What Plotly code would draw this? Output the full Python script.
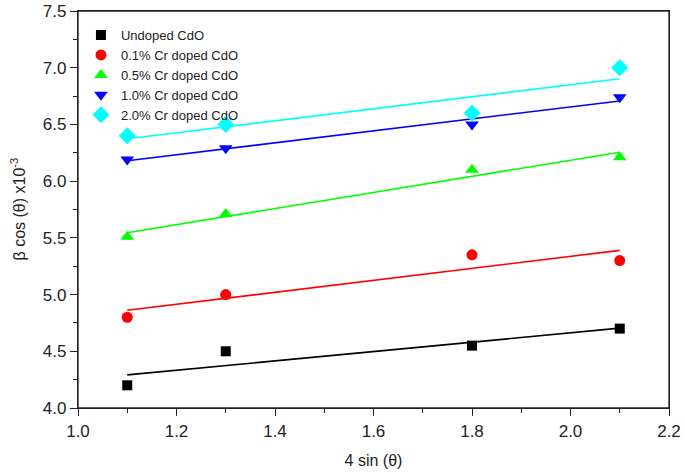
import numpy as np
import plotly.graph_objects as go

x_vals = [1.1, 1.3, 1.8, 2.1]
series_names = ["Undoped CdO", "0.1% Cr doped CdO", "0.5% Cr doped CdO",
                "1.0% Cr doped CdO", "2.0% Cr doped CdO"]
undoped = [4.20, 4.50, 4.55, 4.70]
cr_01 = [4.80, 5.00, 5.35, 5.30]
cr_05 = [5.51, 5.71, 6.10, 6.21]
cr_10 = [6.19, 6.29, 6.50, 6.74]
cr_20 = [6.40, 6.50, 6.60, 7.00]

series_values = [undoped, cr_01, cr_05, cr_10, cr_20]
colors = ["#000000", "#ff0000", "#00ff00", "#0000ff", "#00ffff"]
symbols = ["square", "circle", "triangle-up", "triangle-down", "diamond"]
sizes = [10, 11, 12, 12, 13]

FONT = "Arial, Liberation Sans, sans-serif"

fig = go.Figure()
xa = np.array(x_vals)
for name, vals, c, s, sz in zip(series_names, series_values, colors, symbols, sizes):
    slope, icpt = np.polyfit(xa, np.array(vals), 1)
    xf = np.array([xa.min(), xa.max()])
    fig.add_trace(go.Scatter(x=xf, y=slope * xf + icpt, mode="lines",
                             line=dict(color=c, width=1.6),
                             showlegend=False, hoverinfo="skip"))
    fig.add_trace(go.Scatter(x=x_vals, y=vals, mode="markers", name=name,
                             marker=dict(symbol=s, size=sz, color=c,
                                         line=dict(width=0))))

axis_common = dict(
    showgrid=False, zeroline=False, showline=True, linecolor="#222",
    linewidth=1.3, mirror=True, ticks="outside", ticklen=7, tickwidth=1.2,
    tickcolor="#222", tickfont=dict(family=FONT, size=17, color="#222"),
    automargin=False,
)
fig.update_xaxes(range=[1.0, 2.2], dtick=0.2, tick0=1.0, tickformat=".1f",
                 minor=dict(ticks="outside", ticklen=4, dtick=0.1,
                            tickcolor="#222", tickwidth=1.2),
                 title=dict(text="4 sin (θ)", font=dict(family=FONT, size=16, color="#222")),
                 **axis_common)
fig.update_yaxes(range=[4.0, 7.5], dtick=0.5, tick0=4.0, tickformat=".1f",
                 minor=dict(ticks="outside", ticklen=4, dtick=0.25,
                            tickcolor="#222", tickwidth=1.2),
                 **axis_common)

# plot frame (ensures the top edge is drawn)
fig.add_shape(type="rect", xref="paper", yref="paper", x0=0, y0=0, x1=1, y1=1,
              line=dict(color="#222", width=1.3), fillcolor="rgba(0,0,0,0)",
              layer="above")

fig.add_annotation(text="β cos (θ) x10<sup>-3</sup>", xref="paper", yref="paper",
                   x=0, y=0.5, xanchor="center", yanchor="middle", xshift=-60,
                   textangle=-90, showarrow=False,
                   font=dict(family=FONT, size=16, color="#222"))

fig.update_layout(
    width=685, height=476,
    margin=dict(l=78, r=16, t=11, b=68),
    paper_bgcolor="white", plot_bgcolor="white",
    font=dict(family=FONT, color="#222"),
    legend=dict(x=0.005, y=0.977, xanchor="left", yanchor="top",
                bgcolor="rgba(0,0,0,0)", borderwidth=0,
                font=dict(family=FONT, size=13, color="#222"),
                itemwidth=30),
)

# remove the default 8px page margin so the figure fills the window exactly
fig.write_html("out.html", config={"displayModeBar": False},
               post_script="document.body.style.margin='0';")
